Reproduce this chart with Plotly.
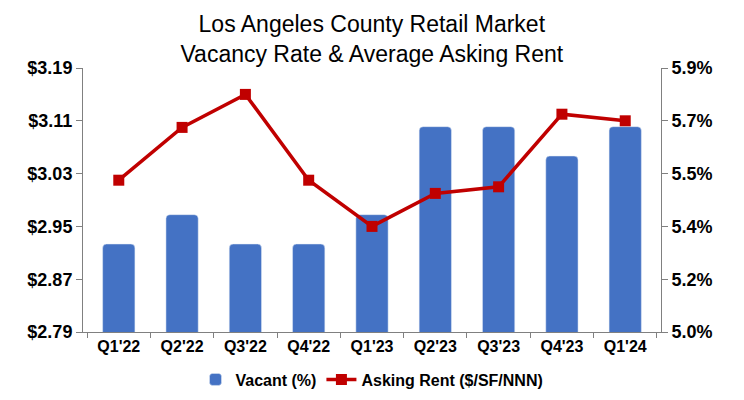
import plotly.graph_objects as go

quarters = ["Q1'22", "Q2'22", "Q3'22", "Q4'22", "Q1'23", "Q2'23", "Q3'23", "Q4'23", "Q1'24"]
vacant = [5.3, 5.4, 5.3, 5.3, 5.4, 5.7, 5.7, 5.6, 5.7]
asking_rent = [3.02, 3.10, 3.15, 3.02, 2.95, 3.00, 3.01, 3.12, 3.11]

rent_ticks = [2.79, 2.87, 2.95, 3.03, 3.11, 3.19]
vac_ticks = [5.0, 5.18, 5.36, 5.54, 5.72, 5.9]
vac_labels = ["5.0%", "5.2%", "5.4%", "5.5%", "5.7%", "5.9%"]

fig = go.Figure()

# bars on the right-hand axis, drawn first so the line sits on top
fig.add_trace(go.Bar(
    x=quarters, y=vacant, name="Vacant (%)",
    marker=dict(color="#4472C4", cornerradius=4),
    yaxis="y",
))
fig.add_trace(go.Scatter(
    x=quarters, y=asking_rent, name="Asking Rent ($/SF/NNN)",
    mode="lines+markers",
    line=dict(color="#C00000", width=3.5),
    marker=dict(symbol="square", size=11, color="#C00000"),
    yaxis="y2",
))

# the page has an 8px body margin, so margins are shifted to compensate
fig.update_layout(
    width=744, height=400,
    margin=dict(l=75, r=91, t=60, b=76, autoexpand=False),
    paper_bgcolor="white", plot_bgcolor="white",
    font=dict(family="Liberation Sans, Arial", color="black"),
    title=dict(
        text="Los Angeles County Retail Market<br>Vacancy Rate & Average Asking Rent",
        x=0.489, xanchor="center", y=0.941, yanchor="middle",
        font=dict(size=23, color="black"),
    ),
    bargap=0.49,
    showlegend=True,
    legend=dict(
        orientation="h", x=0.5, xanchor="center", y=-0.18, yanchor="middle",
        font=dict(size=16, family="Liberation Sans, Arial", weight="bold"),
        traceorder="normal",
    ),
    xaxis=dict(
        showline=True, linecolor="#808080", linewidth=1,
        ticks="outside", tickson="boundaries", tickcolor="#808080", ticklen=5,
        tickfont=dict(size=16, weight="bold"),
        showgrid=False,
    ),
    yaxis=dict(
        side="right", range=[5.0, 5.9],
        tickvals=vac_ticks, ticktext=vac_labels,
        showline=True, linecolor="#808080", linewidth=1,
        ticks="outside", tickcolor="#808080", ticklen=6,
        tickfont=dict(size=18, weight="bold"),
        showgrid=False, zeroline=False,
    ),
    yaxis2=dict(
        side="left", overlaying="y", range=[2.79, 3.19],
        tickvals=rent_ticks, tickformat="$.2f",
        showline=True, linecolor="#808080", linewidth=1,
        ticks="outside", tickcolor="#808080", ticklen=6,
        tickfont=dict(size=18, weight="bold"),
        showgrid=False, zeroline=False,
    ),
)

fig.write_html("out.html")
